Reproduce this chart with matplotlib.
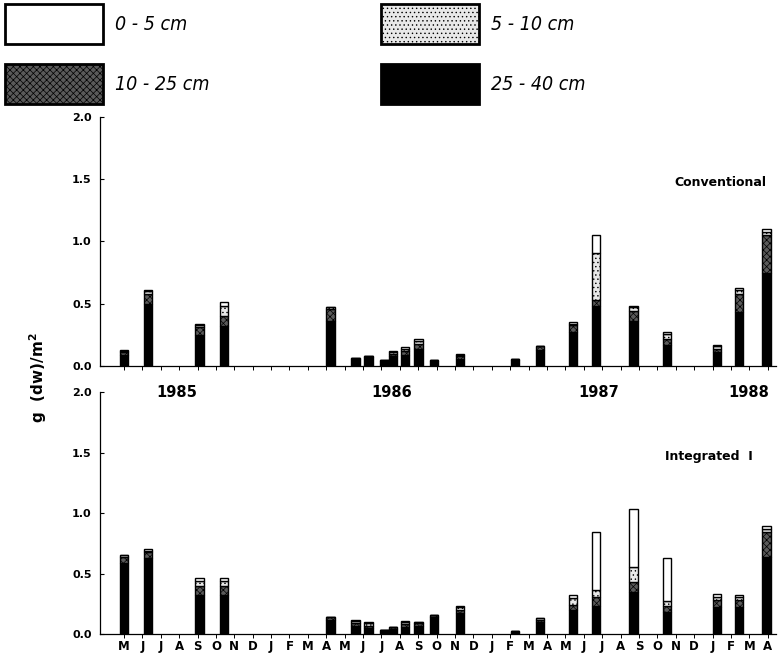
import matplotlib
matplotlib.use("Agg")
import matplotlib.pyplot as plt
from matplotlib.patches import Rectangle

# Sampling dates as months after 1 May 1985 (fractional months)
sample_month = [0.0, 1.32, 4.10, 5.43, 11.23, 12.59, 13.29, 14.17, 14.62, 15.27,
                16.02, 16.85, 18.26, 21.25, 22.63, 24.40, 25.65, 27.70, 29.51,
                32.23, 33.45, 34.92]

month_labels = ["M", "J", "J", "A", "S", "O", "N", "D", "J", "F", "M", "A",
                "M", "J", "J", "A", "S", "O", "N", "D", "J", "F", "M", "A",
                "M", "J", "J", "A", "S", "O", "N", "D", "J", "F", "M", "A"]

year_labels = ["1985", "1986", "1987", "1988"]
year_pos = [2.85, 14.55, 25.8, 33.95]

layers = ["0 - 5 cm", "5 - 10 cm", "10 - 25 cm", "25 - 40 cm"]

# Conventional tillage, g (dw)/m2 per soil layer
conv_0_5 = [0.01, 0.01, 0.01, 0.03, 0.00, 0.00, 0.00, 0.00, 0.01, 0.01, 0.02,
            0.00, 0.01, 0.00, 0.00, 0.01, 0.14, 0.01, 0.01, 0.01, 0.02, 0.02]
conv_5_10 = [0.01, 0.02, 0.02, 0.08, 0.01, 0.00, 0.00, 0.00, 0.01, 0.02, 0.02,
             0.00, 0.01, 0.00, 0.00, 0.01, 0.38, 0.03, 0.04, 0.02, 0.03, 0.03]
conv_10_25 = [0.02, 0.08, 0.06, 0.08, 0.10, 0.01, 0.01, 0.01, 0.02, 0.03, 0.04,
              0.01, 0.02, 0.01, 0.03, 0.06, 0.05, 0.08, 0.05, 0.03, 0.15, 0.30]
conv_25_40 = [0.09, 0.50, 0.25, 0.32, 0.36, 0.055, 0.07, 0.04, 0.08, 0.09, 0.14,
              0.04, 0.06, 0.05, 0.13, 0.27, 0.48, 0.36, 0.17, 0.11, 0.43, 0.75]

# Integrated I, g (dw)/m2 per soil layer
intg_0_5 = [0.00, 0.01, 0.02, 0.02, 0.00, 0.01, 0.01, 0.00, 0.00, 0.01, 0.00,
            0.00, 0.01, 0.00, 0.00, 0.02, 0.48, 0.48, 0.36, 0.02, 0.01, 0.02]
intg_5_10 = [0.01, 0.01, 0.04, 0.04, 0.00, 0.02, 0.02, 0.00, 0.00, 0.02, 0.01,
             0.00, 0.02, 0.00, 0.01, 0.06, 0.05, 0.12, 0.04, 0.03, 0.03, 0.03]
intg_10_25 = [0.05, 0.05, 0.08, 0.08, 0.02, 0.02, 0.02, 0.005, 0.01, 0.02, 0.02,
              0.02, 0.03, 0.005, 0.02, 0.04, 0.08, 0.08, 0.05, 0.06, 0.06, 0.20]
intg_25_40 = [0.59, 0.63, 0.32, 0.32, 0.12, 0.07, 0.05, 0.03, 0.045, 0.06, 0.07,
              0.14, 0.17, 0.02, 0.10, 0.20, 0.23, 0.35, 0.18, 0.22, 0.22, 0.64]

panels = [
    ("Conventional", [conv_25_40, conv_10_25, conv_5_10, conv_0_5]),
    ("Integrated  I", [intg_25_40, intg_10_25, intg_5_10, intg_0_5]),
]

# Fill styles, deepest layer first (stacking order)
styles = [
    dict(facecolor="black", hatch=None),
    dict(facecolor="#5a5a5a", hatch="xxxxx"),
    dict(facecolor="#e8e8e8", hatch="...."),
    dict(facecolor="white", hatch=None),
]

plt.rcParams["hatch.linewidth"] = 0.5
plt.rcParams["hatch.color"] = "black"

fig = plt.figure(figsize=(7.79, 6.56), dpi=100)
ax_top = fig.add_axes([0.1284, 0.4421, 0.8678, 0.3796])
ax_bot = fig.add_axes([0.1284, 0.0335, 0.8678, 0.3689])

bar_w = 0.46
tick_font = dict(family="DejaVu Sans", weight="heavy", size=8)

for ax, (title, stack) in zip([ax_top, ax_bot], panels):
    bottom = [0.0] * len(sample_month)
    for values, st in zip(stack, styles):
        ax.bar(sample_month, values, width=bar_w, bottom=bottom,
               facecolor=st["facecolor"], hatch=st["hatch"],
               edgecolor="black", linewidth=1.0, zorder=3)
        bottom = [b + v for b, v in zip(bottom, values)]
    ax.set_xlim(-1.3, 35.45)
    ax.set_ylim(0, 2.0)
    ax.set_yticks([0.0, 0.5, 1.0, 1.5, 2.0])
    ax.set_yticklabels(["0.0", "0.5", "1.0", "1.5", "2.0"], fontdict=tick_font)
    ax.tick_params(axis="y", direction="in", length=3, width=0.8, pad=6)
    ax.set_xticks(range(len(month_labels)))
    ax.tick_params(axis="x", direction="out", length=3, width=0.7)
    for side in ("top", "right"):
        ax.spines[side].set_visible(False)
    ax.spines["left"].set_linewidth(0.9)
    ax.spines["bottom"].set_linewidth(0.9)
    ax.set_facecolor("none")
    ax.text(0.985 if title == "Conventional" else 0.965, 0.735,
            title, transform=ax.transAxes, ha="right", va="center",
            family="DejaVu Sans", weight="heavy", size=9)

ax_top.set_xticklabels([])
ax_bot.set_xticklabels(month_labels, family="DejaVu Sans", weight="heavy", size=8.5)
ax_bot.tick_params(axis="x", pad=1)

for lab, xp in zip(year_labels, year_pos):
    ax_top.text(xp, -0.105, lab, transform=ax_top.get_xaxis_transform(),
                ha="center", va="center", family="DejaVu Sans",
                weight="heavy", size=10.5)

fig.text(0.049, 0.424, "g  (dw)/m$^\\mathbf{2}$", rotation=90, ha="center",
         va="center", family="DejaVu Sans", weight="heavy", size=11)

# Legend keys across the top of the figure
legend_font = dict(family=["Liberation Sans Narrow", "DejaVu Sans"],
                   style="italic", stretch="condensed", size=14)
key_w, key_h = 98 / 779, 40 / 656
key_pos = [(5 / 779, 1 - 44 / 656), (381 / 779, 1 - 44 / 656),
           (5 / 779, 1 - 104 / 656), (381 / 779, 1 - 104 / 656)]
key_styles = [styles[3], styles[2], styles[1], styles[0]]
for lab, (kx, ky), st in zip(layers, key_pos, key_styles):
    fig.patches.append(Rectangle((kx, ky), key_w, key_h, transform=fig.transFigure,
                                 facecolor=st["facecolor"], hatch=st["hatch"],
                                 edgecolor="black", linewidth=2.0))
    fig.text(kx + key_w + 12 / 779, ky + key_h / 2, lab, ha="left",
             va="center", **legend_font)

fig.savefig("out.png", dpi=100)
